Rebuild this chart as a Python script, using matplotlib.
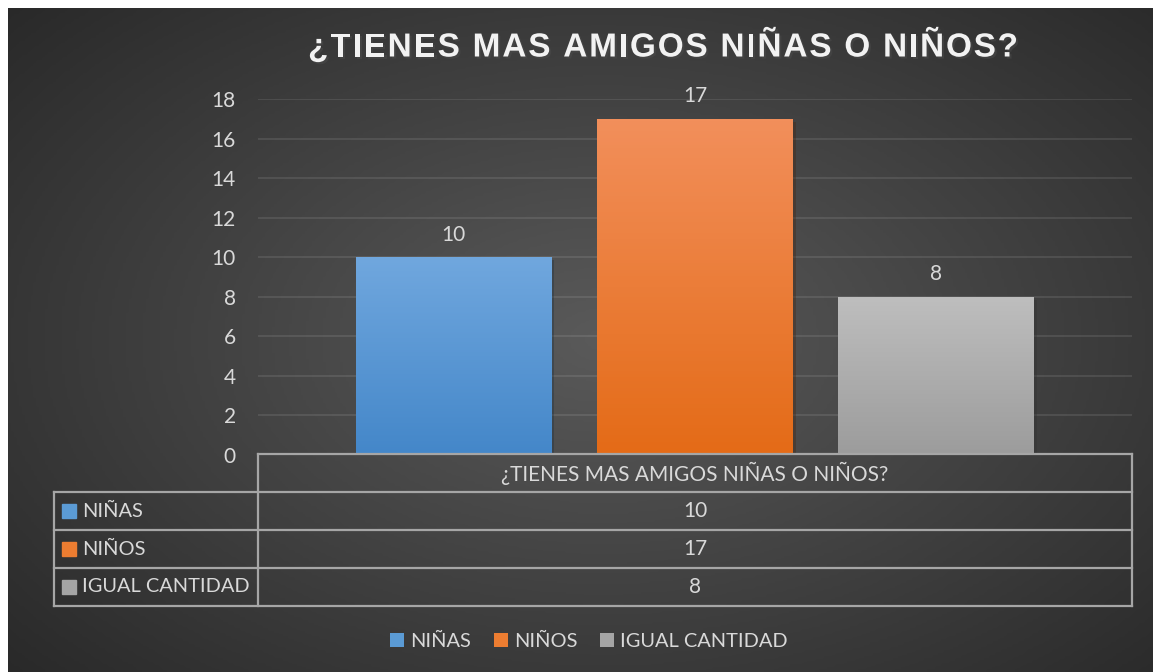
import numpy as np
import matplotlib
matplotlib.use("Agg")
import matplotlib.pyplot as plt
import matplotlib.patheffects as pe
from matplotlib.colors import LinearSegmentedColormap
from matplotlib.patches import Rectangle

# datos
titulo = "¿TIENES MAS AMIGOS NIÑAS O NIÑOS?"
categoria = "¿TIENES MAS AMIGOS NIÑAS O NIÑOS?"
series = ["NIÑAS", "NIÑOS", "IGUAL CANTIDAD"]
valores = [10, 17, 8]
y_ticks = [0, 2, 4, 6, 8, 10, 12, 14, 16, 18]

colores = ["#5B9BD5", "#ED7D31", "#A5A5A5"]
grad_top = ["#70A7DE", "#F28F5B", "#BEBEBE"]
grad_bot = ["#4487C9", "#E46B17", "#9C9C9C"]
texto = "#D9D9D9"
linea_tabla = "#A6A6A6"
fuente = "Lato"
tam = 15

W, H = 1153, 672
fig = plt.figure(figsize=(W / 100, H / 100), dpi=100)
fig.patch.set_facecolor("white")

def fx(px):
    return px / W

def fy(py):
    return 1 - py / H

# fondo con gradiente radial
bg = fig.add_axes([fx(8), 0, 1 - fx(8), 1 - 8 / H], zorder=-10)
gx, gy = np.meshgrid(np.linspace(0, 1, 400), np.linspace(0, 1, 240))
r = np.sqrt(((gx - 0.52) / 0.75) ** 2 + ((gy - 0.5) / 0.8) ** 2)
r = np.clip(r, 0, 1)
bg_cmap = LinearSegmentedColormap.from_list("bg", ["#5a5a5a", "#262626"])
bg.imshow(r, cmap=bg_cmap, aspect="auto", extent=[0, 1, 0, 1], vmin=0, vmax=1)
bg.set_axis_off()

# eje principal
ax = fig.add_axes([fx(258), fy(455), fx(1132 - 258), (455 - 99) / H])
ax.set_facecolor("none")
ax.set_xlim(-0.5, 0.5)
ax.set_ylim(0, 18)
ax.set_yticks(y_ticks)
ax.set_xticks([])
ax.tick_params(axis="y", length=0, pad=16, labelcolor=texto, labelsize=tam)
for lab in ax.get_yticklabels():
    lab.set_fontfamily(fuente)
ax.grid(axis="y", color="white", alpha=0.1, linewidth=1.3)
ax.set_axisbelow(True)
for s in ax.spines.values():
    s.set_visible(False)

paso = 0.276
ancho = 0.224
barras = []
for i, (nombre, v) in enumerate(zip(series, valores)):
    x = (i - 1) * paso
    b = ax.bar(x, v, width=ancho, color=colores[i], label=nombre, zorder=2,
               path_effects=[pe.SimplePatchShadow(offset=(2, -2), alpha=0.35), pe.Normal()])
    barras.append(b)
    cmap = LinearSegmentedColormap.from_list("g%d" % i, [grad_bot[i], grad_top[i]])
    img = ax.imshow(np.linspace(0, 1, 100).reshape(-1, 1), cmap=cmap, origin="lower",
                    aspect="auto", extent=[x - ancho / 2, x + ancho / 2, 0, v], zorder=3)
    img.set_clip_path(b.patches[0])
    ax.bar_label(b, padding=9, color=texto, fontsize=tam, fontfamily=fuente)
ax.set_xlim(-0.5, 0.5)
ax.set_ylim(0, 18)

# titulo con espaciado entre letras
renderer = fig.canvas.get_renderer()
tam_titulo = 24
estilo = dict(fontsize=tam_titulo, fontweight="bold", color="#F2F2F2",
              fontfamily="Liberation Sans", va="center", ha="left",
              path_effects=[pe.withSimplePatchShadow(offset=(1.5, -1.5), alpha=0.6)])
letras = []
anchos = []
for c in titulo:
    t = fig.text(0, fy(48), c, **estilo)
    letras.append(t)
    if c == " ":
        tmp = fig.text(0, 0, "a a", fontsize=tam_titulo, fontweight="bold", fontfamily="Liberation Sans")
        tmp2 = fig.text(0, 0, "aa", fontsize=tam_titulo, fontweight="bold", fontfamily="Liberation Sans")
        anchos.append(tmp.get_window_extent(renderer).width - tmp2.get_window_extent(renderer).width)
        tmp.remove()
        tmp2.remove()
    else:
        anchos.append(t.get_window_extent(renderer).width)
total = 1018 - 308
extra = (total - sum(anchos)) / (len(titulo) - 1)
xpos = 308.0
for t, w in zip(letras, anchos):
    t.set_x(fx(xpos))
    xpos += w + extra

# tabla de datos
tab = fig.add_axes([fx(54), fy(606), fx(1132 - 54), (606 - 454) / H], zorder=5)
tab.set_xlim(0, 1)
tab.set_ylim(4, 0)
tab.set_axis_off()
tab.patch.set_visible(False)
xc = (258 - 54) / (1132 - 54)
lw = 1.6
tab.plot([xc, 1], [0, 0], color=linea_tabla, lw=lw, clip_on=False)
for k in range(1, 5):
    tab.plot([0, 1], [k, k], color=linea_tabla, lw=lw, clip_on=False)
tab.plot([xc, xc], [0, 4], color=linea_tabla, lw=lw, clip_on=False)
tab.plot([1, 1], [0, 4], color=linea_tabla, lw=lw, clip_on=False)
tab.plot([0, 0], [1, 4], color=linea_tabla, lw=lw, clip_on=False)
xm = (xc + 1) / 2
tab.text(xm, 0.5, categoria, ha="center", va="center", color=texto,
         fontsize=tam, fontfamily=fuente)
sq_w = 14 / (1132 - 54)
for k, (nombre, v) in enumerate(zip(series, valores)):
    yc = k + 1.5
    tab.add_patch(Rectangle((8 / (1132 - 54), yc - 0.18), sq_w, 0.36,
                            color=colores[k], clip_on=False))
    tab.text(28 / (1132 - 54), yc, nombre, ha="left", va="center", color=texto,
             fontsize=14.4, fontfamily=fuente)
    tab.text(xm, yc, str(v), ha="center", va="center", color=texto,
             fontsize=tam, fontfamily=fuente)

# leyenda
leg = fig.legend(handles=[b.patches[0] for b in barras], labels=series,
                 loc="center", bbox_to_anchor=(fx(589), fy(641)), ncol=3,
                 frameon=False, handlelength=0.7, handleheight=0.7,
                 handletextpad=0.3, columnspacing=1.15,
                 prop={"family": fuente, "size": 14.4})
for t in leg.get_texts():
    t.set_color(texto)
for h in leg.legend_handles:
    h.set_path_effects([])

fig.savefig("out.png", dpi=100, facecolor="white")
